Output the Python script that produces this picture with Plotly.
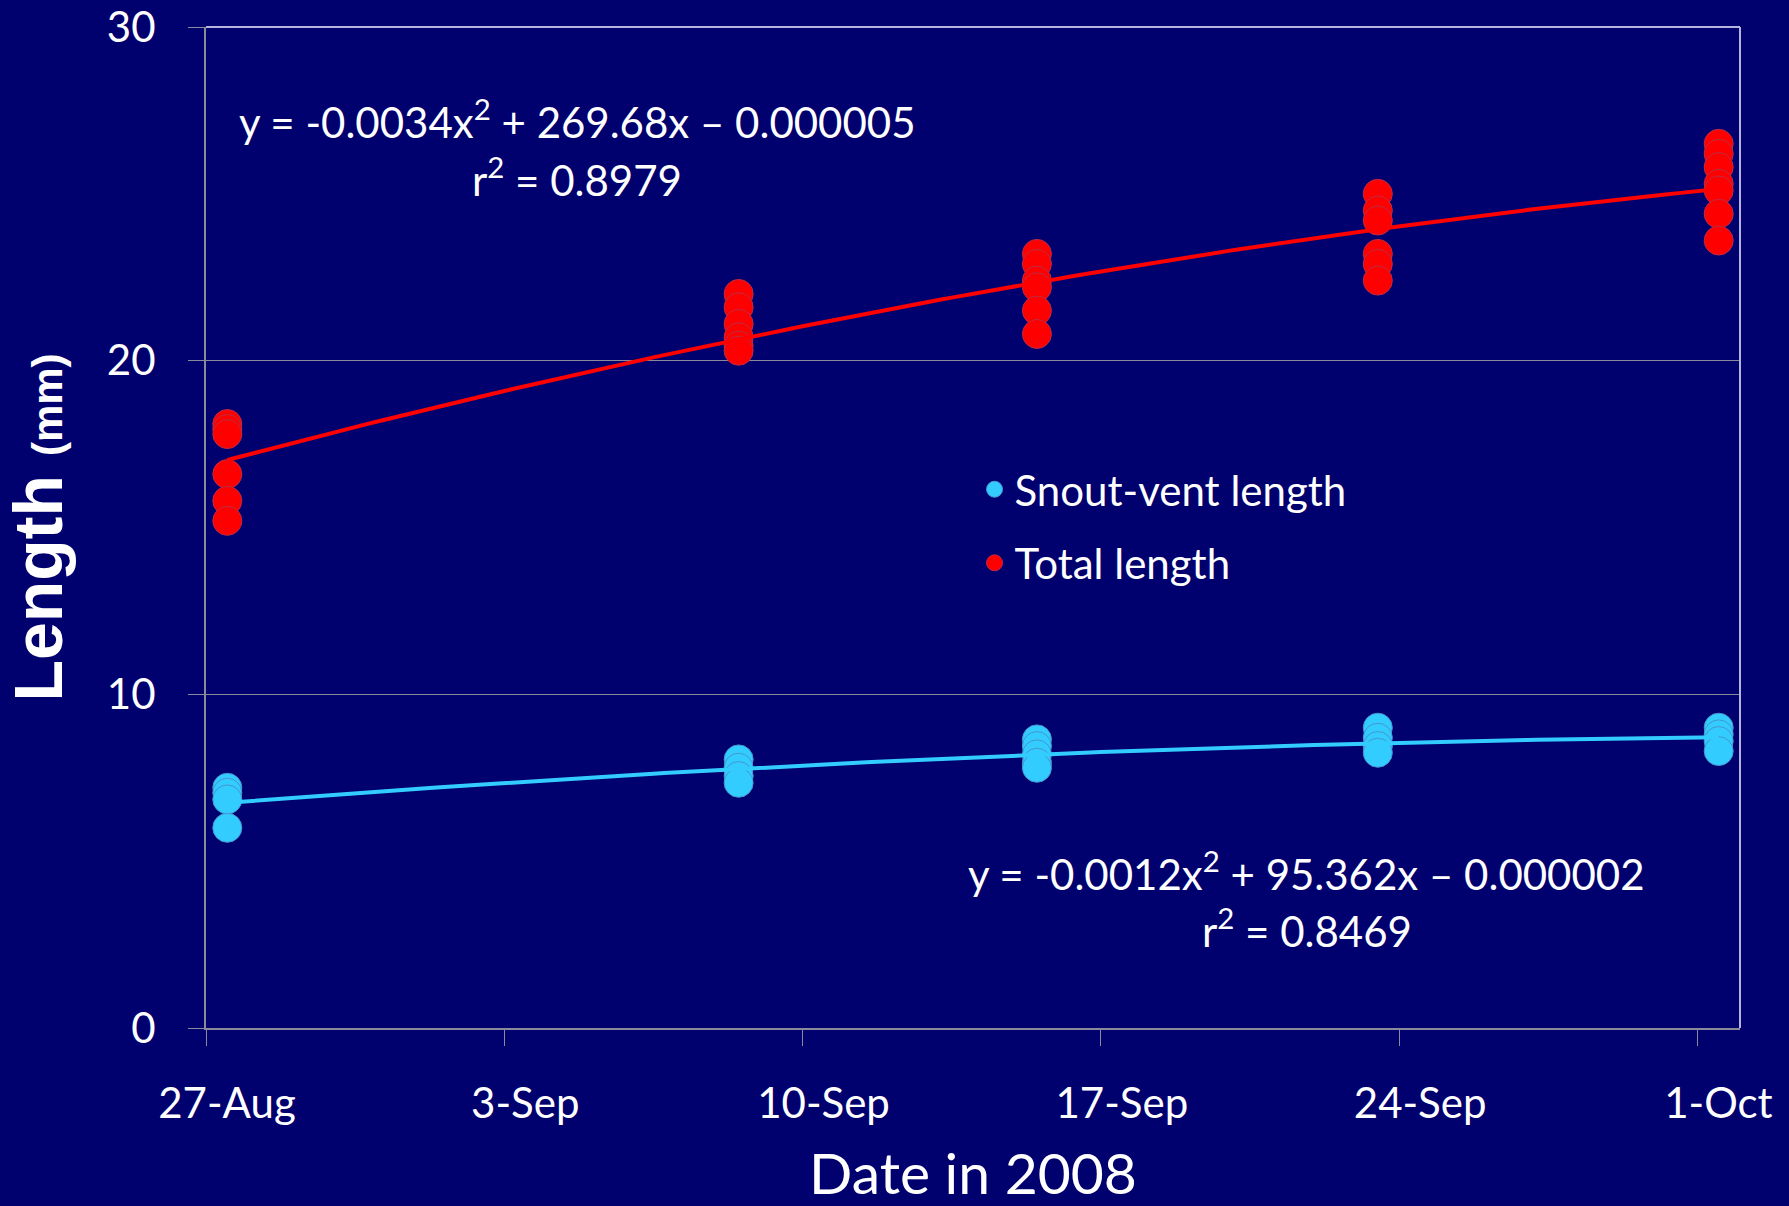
import numpy as np
import pandas as pd
import plotly.graph_objects as go

# ---------------- data ----------------
svl_dates = (["2008-08-27"] * 4 + ["2008-09-08"] * 4 + ["2008-09-15"] * 5
             + ["2008-09-23"] * 4 + ["2008-10-01"] * 4)
svl_values = [7.2, 7.05, 6.85, 6.0,
              8.05, 7.8, 7.55, 7.35,
              8.65, 8.45, 8.2, 7.95, 7.8,
              9.0, 8.7, 8.45, 8.25,
              9.0, 8.8, 8.6, 8.3]

tl_dates = (["2008-08-27"] * 6 + ["2008-09-08"] * 6 + ["2008-09-15"] * 6
            + ["2008-09-23"] * 6 + ["2008-10-01"] * 7)
tl_values = [18.1, 17.95, 17.8, 16.6, 15.8, 15.2,
             22.0, 21.6, 21.1, 20.7, 20.45, 20.3,
             23.2, 22.9, 22.4, 22.2, 21.5, 20.8,
             25.0, 24.5, 24.2, 23.2, 22.9, 22.4,
             26.5, 26.2, 25.8, 25.3, 25.1, 24.4, 23.6]

x_tick_dates = ["2008-08-27", "2008-09-03", "2008-09-10", "2008-09-17", "2008-09-24", "2008-10-01"]
x_tick_labels = ["27-Aug", "3-Sep", "10-Sep", "17-Sep", "24-Sep", "1-Oct"]
y_tick_values = [0, 10, 20, 30]
y_tick_labels = ["0", "10", "20", "30"]

tl_equation_lines = ["y = -0.0034x<sup>2</sup> + 269.68x \u2013 0.000005", "r<sup>2</sup> = 0.8979"]
svl_equation_lines = ["y = -0.0012x<sup>2</sup> + 95.362x \u2013 0.000002", "r<sup>2</sup> = 0.8469"]

# ---------------- styling ----------------
BG = "rgb(0,0,110)"
CYAN = "#33CCFF"
RED = "#FF0000"
GRID = "#8A8A9A"
BORDER = "#B4B4DC"
FONT = "Lato"

# Excel date axis: each day's values sit in the middle of the day
half_day = pd.Timedelta(hours=12)


def quad_trend(dates, values):
    d = pd.to_datetime(pd.Series(dates))
    t0 = d.min()
    days = (d - t0).dt.total_seconds() / 86400.0
    coef = np.polyfit(days, values, 2)
    grid = np.linspace(days.min(), days.max(), 141)
    xs = t0 + pd.to_timedelta(grid, unit="D") + half_day
    return xs, np.polyval(coef, grid)


fig = go.Figure()

fig.add_trace(go.Scatter(
    x=pd.to_datetime(svl_dates) + half_day, y=svl_values, mode="markers",
    name="Snout-vent length", legendgroup="svl",
    marker=dict(size=29, color=CYAN, line=dict(width=1, color="rgb(70,150,205)")),
))
fig.add_trace(go.Scatter(
    x=pd.to_datetime(tl_dates) + half_day, y=tl_values, mode="markers",
    name="Total length", legendgroup="tl",
    marker=dict(size=29, color=RED, line=dict(width=1, color="rgb(185,45,70)")),
))

sx, sy = quad_trend(svl_dates, svl_values)
fig.add_trace(go.Scatter(x=sx, y=sy, mode="lines", showlegend=False,
                         line=dict(color=CYAN, width=4), hoverinfo="skip"))
tx, ty = quad_trend(tl_dates, tl_values)
fig.add_trace(go.Scatter(x=tx, y=ty, mode="lines", showlegend=False,
                         line=dict(color=RED, width=4), hoverinfo="skip"))


def eq_annotations(lines, xc, ys):
    return [dict(text=t, xref="paper", yref="paper", x=xc, y=yy,
                 xanchor="center", yanchor="middle", showarrow=False,
                 font=dict(family=FONT, size=42, color="white"))
            for t, yy in zip(lines, ys)]


fig.update_layout(
    width=1789, height=1206,
    paper_bgcolor=BG, plot_bgcolor=BG,
    margin=dict(l=206, r=49, t=27, b=178, autoexpand=False),
    font=dict(family=FONT, color="white", size=42),
    showlegend=True,
    legend=dict(
        x=0.501, y=0.572, xanchor="left", yanchor="top",
        bgcolor="rgba(0,0,0,0)", font=dict(family=FONT, size=42, color="white"),
        tracegroupgap=16, itemsizing="trace",
    ),
    xaxis=dict(
        type="date", automargin=False,
        range=["2008-08-27", "2008-10-02"],
        tickvals=x_tick_dates, ticktext=x_tick_labels,
        ticks="outside", ticklen=16, tickcolor=GRID, tickwidth=1,
        ticklabelshift=21, ticklabelstandoff=22,
        tickfont=dict(family=FONT, size=42, color="white"),
        showline=True, linecolor=GRID, linewidth=2,
        showgrid=False, zeroline=False,
        title=dict(text="Date in 2008", font=dict(family=FONT, size=57, color="white"), standoff=34),
    ),
    yaxis=dict(
        automargin=False,
        range=[0, 30],
        tickvals=y_tick_values, ticktext=y_tick_labels,
        ticks="outside", ticklen=16, tickcolor=GRID, tickwidth=1,
        ticklabelstandoff=24,
        tickfont=dict(family=FONT, size=42, color="white"),
        showline=True, linecolor=GRID, linewidth=2,
        showgrid=True, gridcolor=GRID, gridwidth=1, zeroline=False,
        title=dict(
            text="<b>Length</b> <b><span style='font-size:42px'>(mm)</span></b>",
            font=dict(family="Liberation Sans", size=68, color="white"), standoff=28,
        ),
    ),
    annotations=eq_annotations(tl_equation_lines, 0.242, [0.908, 0.850])
    + eq_annotations(svl_equation_lines, 0.7177, [0.157, 0.0999]),
    shapes=[
        dict(type="line", xref="x domain", yref="y domain", x0=0, x1=1, y0=1, y1=1,
             line=dict(color=BORDER, width=2)),
        dict(type="line", xref="x domain", yref="y domain", x0=1, x1=1, y0=0, y1=1,
             line=dict(color=BORDER, width=2)),
    ],
)

fig.write_html(
    "out.html",
    config={"displayModeBar": False},
    post_script="document.body.style.margin='0';document.body.style.overflow='hidden';"
                "document.body.style.background='rgb(0,0,110)';",
)
